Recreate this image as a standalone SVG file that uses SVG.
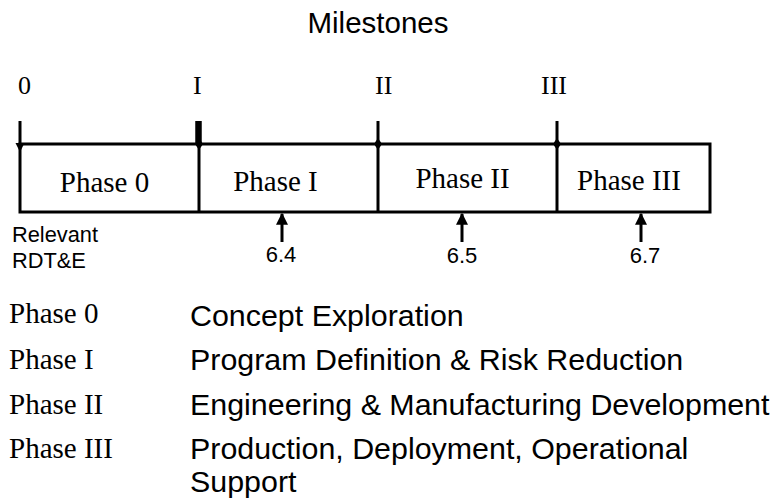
<svg xmlns="http://www.w3.org/2000/svg" width="774" height="501" viewBox="0 0 774 501">
<defs>
<style>
.serif{font-family:"Liberation Serif","Times New Roman",serif;font-size:29px;fill:#000}
.ms{font-size:26px}
.sans{font-family:"Liberation Sans",Arial,sans-serif;fill:#000}
.lg{font-size:30.4px}
.num{font-size:22px}
.ln{stroke:#000;stroke-width:3;fill:none}
</style>
<marker id="ah" viewBox="0 0 10 10" refX="9" refY="5" markerWidth="4" markerHeight="4" orient="auto" markerUnits="strokeWidth">
<path d="M0,0 L10,5 L0,10 z" fill="#000"/>
</marker>
<path id="dia" d="M0,-6 L4,0 L0,6 L-4,0 z" fill="#000"/>
</defs>
<rect width="774" height="501" fill="#fff"/>
<g id="title">
<text class="sans" x="378" y="33" font-size="29.5" text-anchor="middle">Milestones</text>
</g>
<g id="milestone-labels">
<text class="serif ms" x="18" y="94">0</text>
<text class="serif ms" x="193" y="94">I</text>
<text class="serif ms" x="375" y="94">II</text>
<text class="serif ms" x="541" y="94">III</text>
</g>
<g id="timeline">
<rect x="20" y="144" width="690" height="68" class="ln"/>
<line x1="199" y1="144" x2="199" y2="212" class="ln"/>
<line x1="378" y1="144" x2="378" y2="212" class="ln"/>
<line x1="557" y1="144" x2="557" y2="212" class="ln"/>
</g>
<g id="ticks">
<line x1="20" y1="121" x2="20" y2="144" class="ln"/>
<path d="M15.5,143 L24.5,143 L20,152 z" fill="#000"/>
<line x1="198.5" y1="121" x2="198.5" y2="144" stroke="#000" stroke-width="6.5"/>
<use href="#dia" x="199" y="144"/>
<line x1="378" y1="121" x2="378" y2="144" class="ln"/>
<use href="#dia" x="378" y="144"/>
<line x1="557" y1="121" x2="557" y2="144" class="ln"/>
<use href="#dia" x="557" y="144"/>
</g>
<g id="phase0"><text class="serif" x="104.5" y="192" text-anchor="middle">Phase 0</text></g>
<g id="phase1"><text class="serif" x="275.5" y="191" text-anchor="middle">Phase I</text></g>
<g id="phase2"><text class="serif" x="462.5" y="188" text-anchor="middle">Phase II</text></g>
<g id="phase3"><text class="serif" x="629" y="190" text-anchor="middle">Phase III</text></g>
<g id="connectors">
<line x1="282" y1="242" x2="282" y2="214" class="ln" marker-end="url(#ah)"/>
<line x1="462" y1="242" x2="462" y2="214" class="ln" marker-end="url(#ah)"/>
<line x1="641" y1="242" x2="641" y2="214" class="ln" marker-end="url(#ah)"/>
</g>
<g id="refs">
<text class="sans num" x="281" y="262" text-anchor="middle">6.4</text>
<text class="sans num" x="462" y="263" text-anchor="middle">6.5</text>
<text class="sans num" x="645" y="263" text-anchor="middle">6.7</text>
</g>
<g id="relevant">
<text class="sans" x="12" y="242" font-size="21.8">Relevant</text>
<text class="sans" x="12" y="268" font-size="21.8">RDT&amp;E</text>
</g>
<g id="legend">
<text class="serif" x="9" y="323">Phase 0</text>
<text class="serif" x="9" y="369">Phase I</text>
<text class="serif" x="9" y="414">Phase II</text>
<text class="serif" x="9" y="458">Phase III</text>
<text class="sans lg" x="190" y="326">Concept Exploration</text>
<text class="sans lg" x="190" y="370">Program Definition &amp; Risk Reduction</text>
<text class="sans lg" x="190" y="415">Engineering &amp; Manufacturing Development</text>
<text class="sans lg" x="190" y="459">Production, Deployment, Operational</text>
<text class="sans lg" x="190" y="492">Support</text>
</g>
</svg>
